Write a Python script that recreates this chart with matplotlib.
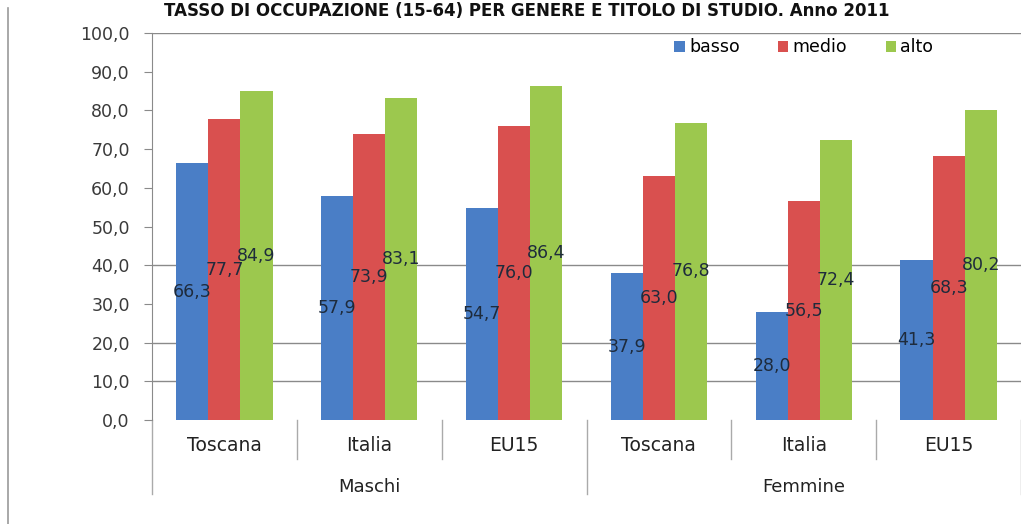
import matplotlib
matplotlib.use("Agg")
import matplotlib.pyplot as plt
import matplotlib.transforms as mtransforms
from matplotlib.lines import Line2D
import numpy as np

TITLE = "TASSO DI OCCUPAZIONE (15-64) PER GENERE E TITOLO DI STUDIO. Anno 2011"
CATEGORIES = ["Toscana", "Italia", "EU15", "Toscana", "Italia", "EU15"]
GROUPS = ["Maschi", "Femmine"]
SERIES = ["basso", "medio", "alto"]
BASSO = [66.3, 57.9, 54.7, 37.9, 28.0, 41.3]
MEDIO = [77.7, 73.9, 76.0, 63.0, 56.5, 68.3]
ALTO = [84.9, 83.1, 86.4, 76.8, 72.4, 80.2]
Y_TICKS = [0, 10, 20, 30, 40, 50, 60, 70, 80, 90, 100]
GRID_LEVELS = [10, 20, 40, 100]

COLORS = ["#4a7ec6", "#d9504f", "#9cc84e"]
LABEL_COL = "#1e2b3c"
FS = 12.5

plt.rcParams["font.family"] = ["DejaVu Sans"]

fig = plt.figure(figsize=(10.21, 5.24), dpi=100)
ax = fig.add_axes([152 / 1021, 104 / 524, 1 - 152 / 1021, 387 / 524])

x = np.arange(len(CATEGORIES))
w = 0.222
for i, (name, vals) in enumerate(zip(SERIES, [BASSO, MEDIO, ALTO])):
    bars = ax.bar(x + (i - 1) * w, vals, width=w, color=COLORS[i], label=name, zorder=2)
    ax.bar_label(bars, labels=[f"{v:.1f}".replace(".", ",") for v in vals],
                 label_type="center", fontsize=FS, color=LABEL_COL, zorder=3)

for g in GRID_LEVELS:
    ax.axhline(g, color="#8a8a8a", lw=1.0, zorder=1)

ax.set_xlim(-0.5, len(CATEGORIES) - 0.5)
ax.set_ylim(0, 100)
ax.set_yticks(Y_TICKS)
ax.set_yticklabels([f"{t:.1f}".replace(".", ",") for t in Y_TICKS], fontsize=FS, color="#3a3a3a")
ax.set_xticks([])
for s in ["top", "right", "bottom"]:
    ax.spines[s].set_visible(False)
ax.spines["left"].set_color("#8a8a8a")
ax.tick_params(axis="y", length=6, color="#8a8a8a", pad=10)

# multi-level category axis
trans = mtransforms.blended_transform_factory(ax.transData, ax.transAxes)
for i, c in enumerate(CATEGORIES):
    ax.text(i, -0.065, c, transform=trans, ha="center", va="center", fontsize=13.5, color="#222222")
for i in range(len(CATEGORIES) + 1):
    outer = i % 3 == 0
    y_end = -0.19 if outer else -0.10
    ax.plot([i - 0.5, i - 0.5], [0, y_end], transform=trans, color="#aaaaaa", lw=1.0,
            clip_on=False)
for j, gname in enumerate(GROUPS):
    ax.text(3 * j + 1, -0.172, gname, transform=trans, ha="center", va="center",
            fontsize=13, color="#222222")

ax.legend(loc="upper center", bbox_to_anchor=(0.75, 1.027), ncol=3, frameon=False,
          fontsize=12.5, handlelength=0.6, handleheight=0.6, columnspacing=2.2,
          handletextpad=0.25)

# chart border and title
fig.add_artist(Line2D([8 / 1021, 8 / 1021], [0, 1 - 8 / 524], color="#9a9a9a", lw=1.2))
fig.text(0.516, 1 - 2 / 524, TITLE, ha="center", va="top", fontsize=12,
         fontweight="bold", color="#111111")

fig.savefig("out.png", dpi=100)
